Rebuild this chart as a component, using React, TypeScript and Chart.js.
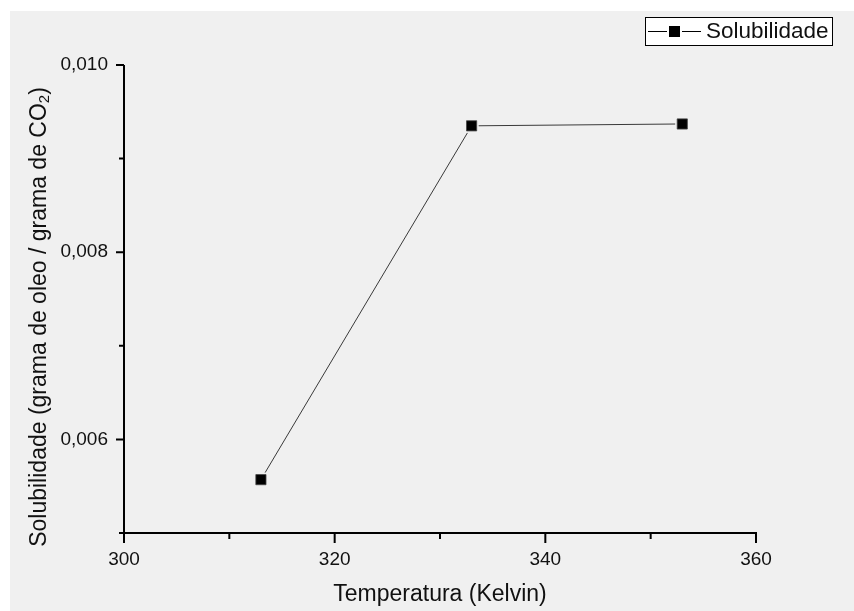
import React, { useEffect, useRef } from "react";
import { Chart, registerables } from "chart.js";

Chart.register(...registerables);

// ---- data ----
const temperatures = [313, 333, 353];
const solubility = [0.00557, 0.00935, 0.00937];
const xMajorTicks = [300, 320, 340, 360];
const yMajorTicks = [0.006, 0.008, 0.01];
const seriesLabel = "Solubilidade";
const xTitle = "Temperatura (Kelvin)";
const yTitleMain = "Solubilidade (grama de oleo / grama de CO";
const yTitleSub = "2";
const yTitleEnd = ")";

const FONT = '"Liberation Sans", Arial, Helvetica, sans-serif';
const BG = "#F0F0F0";

const isMajor = (v: number, list: number[]) => list.some((m) => Math.abs(m - v) < 1e-9);

const bgPlugin = {
  id: "bgPlugin",
  beforeDraw(chart: any) {
    const ctx = chart.ctx;
    ctx.save();
    ctx.fillStyle = "#ffffff";
    ctx.fillRect(0, 0, chart.width, chart.height);
    ctx.fillStyle = BG;
    ctx.fillRect(10, 11, chart.width - 10, chart.height - 11);
    ctx.restore();
  },
};

const axesPlugin = {
  id: "axesPlugin",
  afterDraw(chart: any) {
    const ctx = chart.ctx;
    const { left, right, top, bottom } = chart.chartArea;
    const xs = chart.scales.x;
    const ys = chart.scales.y;
    ctx.save();
    ctx.strokeStyle = "#000";
    ctx.lineWidth = 2;
    ctx.beginPath();
    ctx.moveTo(left, top);
    ctx.lineTo(left, bottom + 1);
    ctx.moveTo(left - 1, bottom);
    ctx.lineTo(right + 1, bottom);
    xs.ticks.forEach((t: any) => {
      const px = xs.getPixelForValue(t.value);
      const len = isMajor(t.value, xMajorTicks) ? 10 : 6;
      ctx.moveTo(px, bottom);
      ctx.lineTo(px, bottom + len);
    });
    ys.ticks.forEach((t: any) => {
      const py = ys.getPixelForValue(t.value);
      const len = isMajor(t.value, yMajorTicks) ? 8 : 5;
      ctx.moveTo(left, py);
      ctx.lineTo(left - len, py);
    });
    ctx.stroke();

    // axis titles
    ctx.fillStyle = "#111";
    ctx.font = `23px ${FONT}`;
    ctx.textAlign = "center";
    ctx.textBaseline = "alphabetic";
    ctx.fillText(xTitle, (left + right) / 2, 601);

    // y title rotated
    ctx.save();
    ctx.translate(46, 317);
    ctx.rotate(-Math.PI / 2);
    ctx.font = `23px ${FONT}`;
    const w1 = ctx.measureText(yTitleMain).width;
    ctx.font = `15px ${FONT}`;
    const w2 = ctx.measureText(yTitleSub).width;
    ctx.font = `23px ${FONT}`;
    const w3 = ctx.measureText(yTitleEnd).width;
    const total = w1 + w2 + w3;
    let cx = -total / 2;
    ctx.textAlign = "left";
    ctx.fillText(yTitleMain, cx, 0);
    cx += w1;
    ctx.font = `15px ${FONT}`;
    ctx.fillText(yTitleSub, cx, 3);
    cx += w2;
    ctx.font = `23px ${FONT}`;
    ctx.fillText(yTitleEnd, cx, 0);
    ctx.restore();

    // legend
    ctx.fillStyle = "#ffffff";
    ctx.fillRect(645, 17, 187, 28);
    ctx.strokeStyle = "#000";
    ctx.lineWidth = 1;
    ctx.strokeRect(645.5, 17.5, 187, 28);
    ctx.beginPath();
    ctx.moveTo(648, 31.5);
    ctx.lineTo(667, 31.5);
    ctx.moveTo(682, 31.5);
    ctx.lineTo(701, 31.5);
    ctx.stroke();
    ctx.fillStyle = "#000";
    ctx.fillRect(669, 26, 11, 11);
    ctx.font = `22.5px ${FONT}`;
    ctx.textAlign = "left";
    ctx.textBaseline = "middle";
    ctx.fillStyle = "#111";
    ctx.fillText(seriesLabel, 706, 32);
    ctx.restore();
  },
};

export default function App() {
  const ref = useRef<HTMLCanvasElement | null>(null);

  useEffect(() => {
    if (!ref.current) return;
    const points = temperatures.map((t, i) => ({ x: t, y: solubility[i] }));
    const chart = new Chart(ref.current, {
      type: "scatter",
      data: {
        datasets: [
          {
            label: seriesLabel,
            data: points,
            showLine: false,
            pointStyle: "rect",
            pointRadius: 7.2,
            pointBackgroundColor: "#000",
            pointBorderColor: "#444",
            pointBorderWidth: 0.8,
          },
          {
            label: seriesLabel + " line",
            data: points,
            showLine: true,
            borderColor: "#3a3a3a",
            borderWidth: 1,
            pointStyle: "rect",
            pointRadius: 10,
            pointBackgroundColor: BG,
            pointBorderWidth: 0,
          },
        ],
      },
      options: {
        responsive: false,
        animation: false,
        events: [],
        layout: { padding: { top: 65, right: 98, left: 0, bottom: 0 } },
        plugins: {
          legend: { display: false },
          tooltip: { enabled: false },
          title: { display: false },
        },
        scales: {
          x: {
            type: "linear",
            min: 300,
            max: 360,
            border: { display: false },
            grid: { display: false, drawTicks: false },
            afterFit: (s: any) => {
              s.height = 78;
            },
            ticks: {
              stepSize: 10,
              autoSkip: false,
              maxRotation: 0,
              padding: 15,
              color: "#111",
              font: { family: FONT, size: 19 },
              callback: (v: any) => (isMajor(Number(v), xMajorTicks) ? String(v) : ""),
            },
          },
          y: {
            type: "linear",
            min: 0.005,
            max: 0.01,
            border: { display: false },
            grid: { display: false, drawTicks: false },
            afterFit: (s: any) => {
              s.width = 124;
            },
            ticks: {
              stepSize: 0.001,
              autoSkip: false,
              padding: 16,
              color: "#111",
              font: { family: FONT, size: 19 },
              callback: (v: any) =>
                isMajor(Number(v), yMajorTicks) ? Number(v).toFixed(3).replace(".", ",") : "",
            },
          },
        },
      },
      plugins: [bgPlugin, axesPlugin],
    });
    return () => chart.destroy();
  }, []);

  return (
    <canvas
      ref={ref}
      width={854}
      height={611}
      style={{ position: "absolute", left: 0, top: 0, width: 854, height: 611 }}
    />
  );
}
